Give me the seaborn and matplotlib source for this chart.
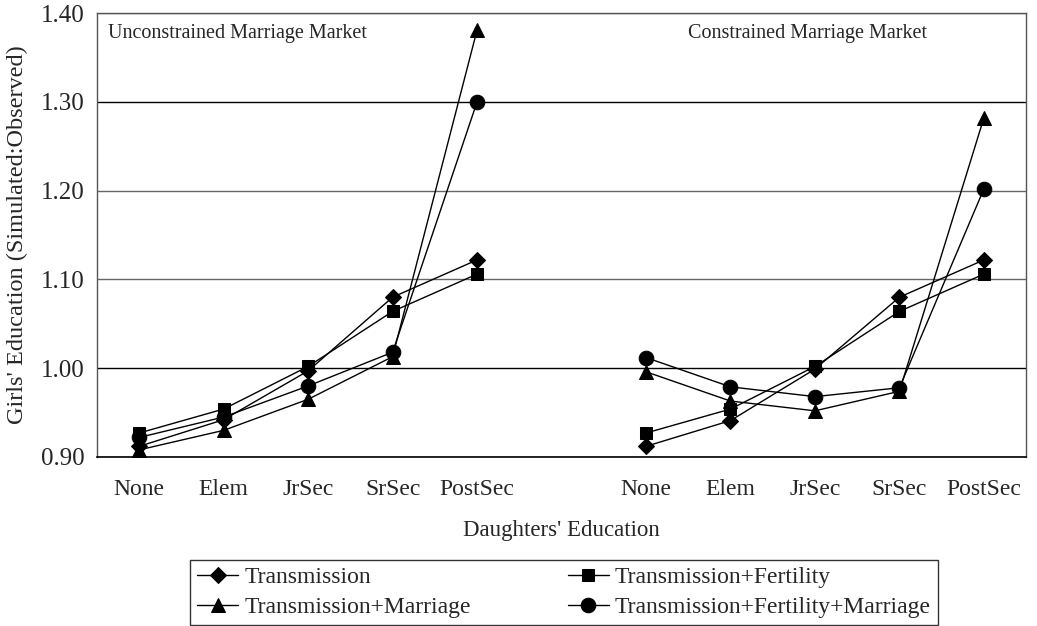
import pandas as pd
import matplotlib.pyplot as plt
import seaborn as sns

# --- data ---
categories = ["None", "Elem", "JrSec", "SrSec", "PostSec"]
markets = ["Unconstrained Marriage Market", "Constrained Marriage Market"]
series = ["Transmission", "Transmission+Fertility",
          "Transmission+Marriage", "Transmission+Fertility+Marriage"]

# unconstrained market
unc_trans = [0.912, 0.942, 0.997, 1.080, 1.122]
unc_fert = [0.927, 0.954, 1.002, 1.064, 1.106]
unc_marr = [0.908, 0.930, 0.965, 1.013, 1.381]
unc_all = [0.922, 0.945, 0.980, 1.018, 1.300]

# constrained market
con_trans = [0.912, 0.941, 0.999, 1.080, 1.122]
con_fert = [0.927, 0.954, 1.002, 1.064, 1.106]
con_marr = [0.996, 0.963, 0.952, 0.974, 1.282]
con_all = [1.012, 0.979, 0.968, 0.978, 1.202]

values = {
    markets[0]: [unc_trans, unc_fert, unc_marr, unc_all],
    markets[1]: [con_trans, con_fert, con_marr, con_all],
}

# long table; right block starts after one empty category slot
rows = []
for m_i, market in enumerate(markets):
    for s_name, vals in zip(series, values[market]):
        for c_i, (cat, v) in enumerate(zip(categories, vals)):
            rows.append({"market": market, "series": s_name,
                         "pos": c_i + m_i * (len(categories) + 1),
                         "category": cat, "value": v})
df = pd.DataFrame(rows)

# --- plot ---
sns.set_style("white")
plt.rcParams["font.family"] = ["Liberation Serif", "DejaVu Serif"]

fig = plt.figure(figsize=(10.37, 6.26), dpi=100)
ax = fig.add_axes([0.0935, 0.27, 0.896, 0.709])

markers = {series[0]: "D", series[1]: "s", series[2]: "^", series[3]: "o"}
sizes = {series[0]: 8.5, series[1]: 9, series[2]: 10, series[3]: 10.5}

handles = {}
for s_name in series:
    n_before = len(ax.get_lines())
    sns.lineplot(data=df[df["series"] == s_name], x="pos", y="value",
                 units="market", estimator=None, color="black",
                 marker=markers[s_name], markersize=sizes[s_name],
                 markeredgecolor="black", linewidth=1.0,
                 sort=False, ax=ax, legend=False)
    handles[s_name] = ax.get_lines()[n_before]

# axes / ticks
n_slots = 2 * len(categories) + 1
ax.set_xlim(-0.5, n_slots - 0.5)
ax.set_ylim(0.9, 1.4)
tick_pos = sorted(df["pos"].unique())
ax.set_xticks(tick_pos)
ax.set_xticklabels(categories + categories, fontsize=17)
ax.set_xticks([i - 0.5 for i in range(n_slots + 1)], minor=True)
ax.tick_params(axis="x", which="major", length=0, pad=16)
ax.tick_params(axis="x", which="minor", length=6, width=1, direction="out", color="black")
yticks = [0.9, 1.0, 1.1, 1.2, 1.3, 1.4]
ax.set_yticks(yticks)
ax.set_yticklabels([f"{v:.2f}" for v in yticks], fontsize=18)
ax.tick_params(axis="y", length=5, width=1, direction="out", color="#444444", pad=4)

ax.yaxis.grid(True, color="#666666", linewidth=1.0)
ax.xaxis.grid(False)
ax.set_axisbelow(True)
# the 1.00 and 1.30 rules print darker in the original
for gl, v in zip(ax.get_ygridlines(), yticks):
    if v in (1.0, 1.3):
        gl.set_color("black")
for side in ["left", "top", "right"]:
    ax.spines[side].set_color("#555555")
    ax.spines[side].set_linewidth(1.0)
ax.spines["bottom"].set_color("black")
ax.spines["bottom"].set_linewidth(1.2)

ax.set_xlabel("Daughters' Education", fontsize=16.5, labelpad=14)
ax.set_ylabel("Girls' Education (Simulated:Observed)", fontsize=17.5, labelpad=9)

# market captions
ax.text(0.012, 0.975, markets[0], transform=ax.transAxes, fontsize=14.5, va="top", ha="left")
ax.text(0.765, 0.975, markets[1], transform=ax.transAxes, fontsize=14.5, va="top", ha="center")

# row-wise order: Transmission, +Fertility / +Marriage, +Fertility+Marriage
leg_order = [series[0], series[2], series[1], series[3]]
leg = fig.legend([handles[s] for s in leg_order], leg_order,
                 loc="lower left", bbox_to_anchor=(190 / 1037, 1 / 626), ncol=2,
                 fontsize=17, frameon=True, fancybox=False, edgecolor="black",
                 handlelength=1.75, handletextpad=0.25, columnspacing=4.1,
                 borderpad=0.3, labelspacing=0.35, borderaxespad=0)
leg.get_frame().set_linewidth(1.0)

fig.savefig("out.png", dpi=100)
